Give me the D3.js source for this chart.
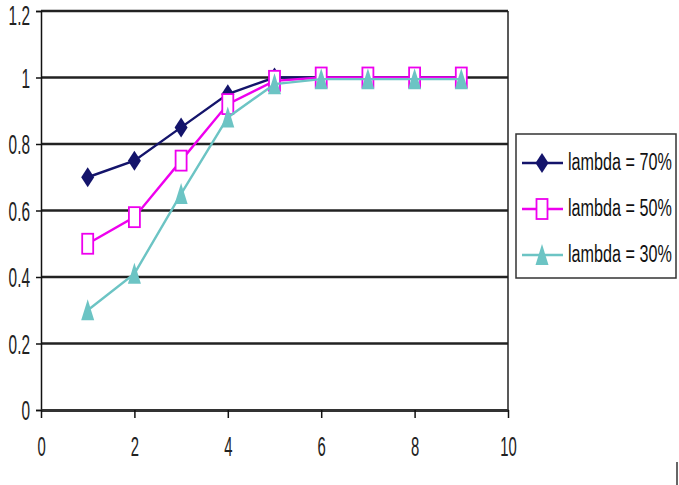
<!DOCTYPE html>
<html><head><meta charset="utf-8">
<script src="https://cdn.jsdelivr.net/npm/d3@7/dist/d3.min.js"></script>
<style>body{margin:0;background:#fff}svg{display:block}text{font-family:"Liberation Sans",Arial,sans-serif}</style>
</head><body>
<svg id="c" width="679" height="485"></svg>
<script>
const xValues = [1,2,3,4,5,6,7,8,9];
const lambda70 = [0.70,0.75,0.85,0.95,1.0,1.0,1.0,1.0,1.0];
const lambda50 = [0.50,0.58,0.75,0.92,0.99,1.0,1.0,1.0,1.0];
const lambda30 = [0.30,0.41,0.65,0.88,0.98,0.995,0.995,0.995,0.995];
const seriesNames = ["lambda = 70%","lambda = 50%","lambda = 30%"];
const xTicks = [0,2,4,6,8,10];
const yTicks = [0,0.2,0.4,0.6,0.8,1,1.2];

const svg = d3.select("#c");
const x = d3.scaleLinear().domain([0,10]).range([41,508]);
const y = d3.scaleLinear().domain([0,1.2]).range([410,11]);

// gridlines
svg.append("g").selectAll("line").data(yTicks.filter(d=>d>0)).join("line")
  .attr("x1",x(0)).attr("x2",x(10)).attr("y1",d=>y(d)).attr("y2",d=>y(d))
  .attr("stroke","#222").attr("stroke-width",2.6);
// right border
svg.append("line").attr("x1",x(10)).attr("x2",x(10)).attr("y1",y(1.2)).attr("y2",y(0))
  .attr("stroke","#222").attr("stroke-width",1.5);

// axes
const yAxis = d3.axisLeft(y).tickValues(yTicks).tickSize(5).tickPadding(0)
  .tickFormat(d=>d3.format("")(+d.toFixed(1)));
const gy = svg.append("g").attr("transform",`translate(${x(0)},0)`).call(yAxis);
gy.select(".domain").attr("stroke","#111").attr("stroke-width",1.5);
gy.selectAll(".tick line").attr("stroke","#111").attr("stroke-width",1.5);
gy.selectAll("text").attr("font-size",27).attr("fill","#222")
  .attr("x",0).attr("dy","0.36em")
  .attr("transform",d=>`translate(-11,${d===1.2?4:0}) scale(0.57,1)`);

const xAxis = d3.axisBottom(x).tickValues(xTicks).tickSize(8).tickPadding(19).tickSizeOuter(0);
const gx = svg.append("g").attr("transform",`translate(0,${y(0)})`).call(xAxis);
gx.select(".domain").attr("stroke","#333").attr("stroke-width",3);
gx.selectAll(".tick line").attr("stroke","#111").attr("stroke-width",1.5);
gx.selectAll("text").attr("font-size",27).attr("fill","#222")
  .attr("transform","scale(0.55,1)");

const colors = ["#14146b","#ee00ee","#6cc4c4"];
const dataSets = [lambda70,lambda50,lambda30];

function marker(g, i, cx, cy){
  if(i===0){
    g.append("path").attr("d",`M${cx},${cy-10}L${cx+6.5},${cy}L${cx},${cy+10}L${cx-6.5},${cy}Z`).attr("fill",colors[0]);
  } else if(i===1){
    g.append("rect").attr("x",cx-5.5).attr("y",cy-10).attr("width",11).attr("height",20)
      .attr("fill","#fff").attr("stroke",colors[1]).attr("stroke-width",1.8);
  } else {
    g.append("path").attr("d",`M${cx},${cy-11}L${cx+6.5},${cy+10}L${cx-6.5},${cy+10}Z`).attr("fill",colors[2]);
  }
}

const line = d3.line().x((d,i)=>x(xValues[i])).y(d=>y(d));
dataSets.forEach((vals,i)=>{
  const g = svg.append("g");
  g.append("path").datum(vals).attr("d",line).attr("fill","none")
    .attr("stroke",colors[i]).attr("stroke-width",2.4);
  vals.forEach((v,j)=>marker(g,i,x(xValues[j]),y(v)));
});

// legend
const lg = svg.append("g");
lg.append("rect").attr("x",516).attr("y",134).attr("width",160).attr("height",144)
  .attr("fill","#fff").attr("stroke","#333").attr("stroke-width",1.5);
seriesNames.forEach((n,i)=>{
  const ly = 163 + i*46;
  lg.append("line").attr("x1",522).attr("x2",563).attr("y1",ly).attr("y2",ly)
    .attr("stroke",colors[i]).attr("stroke-width",2.4);
  marker(lg,i,542,ly);
  lg.append("text").attr("x",0).attr("y",0).attr("font-size",24.5).attr("fill","#111")
    .attr("transform",`translate(568,${ly+7}) scale(0.66,1)`).text(n);
});

// small mark at bottom right
svg.append("rect").attr("x",676).attr("y",462).attr("width",2).attr("height",23).attr("fill","#666");
</script>
</body></html>
